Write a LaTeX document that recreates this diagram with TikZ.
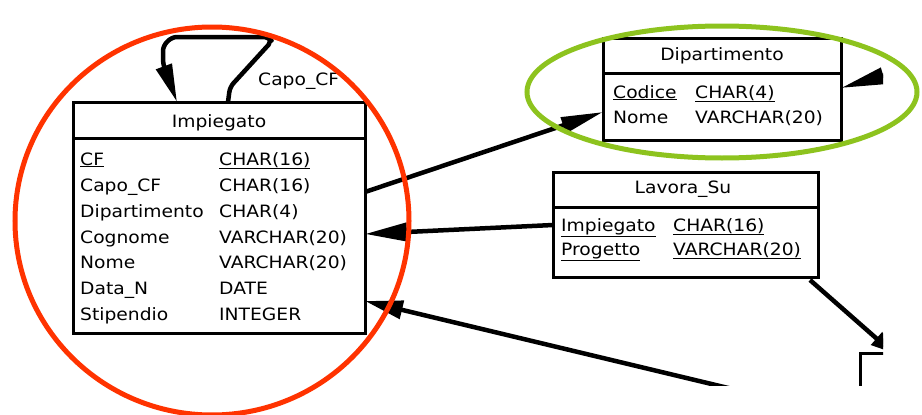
\documentclass[tikz,border=0pt]{standalone}
\usepackage{fontspec}
\newfontfamily\tblfont[FakeStretch=1.1]{DejaVu Sans}
\usetikzlibrary{arrows.meta,calc}
\definecolor{ringred}{HTML}{FF3300}
\definecolor{ringgreen}{HTML}{8DC31E}
\begin{document}
\begin{tikzpicture}[x=1pt,y=-1pt,
  tbox/.style={draw, line width=3pt, inner sep=0pt, outer sep=0pt, anchor=north west},
  tline/.style={line width=3pt},
  cell/.style={anchor=base west, inner sep=0pt, font=\tblfont\fontsize{17}{19}\selectfont},
  tabtitle/.style={anchor=base, inner sep=0pt, font=\tblfont\fontsize{17}{19}\selectfont},
  link/.style={line width=4.5pt, line join=round},
  ring/.style={line width=5pt}]
\useasboundingbox (0,0) rectangle (922,415);

\begin{scope}
\clip (0,0) rectangle (883,385);

% --- table Impiegato ---
\node[tbox, minimum width=292pt, minimum height=231pt] (imp) at (73,102) {};
\draw[tline] ($(imp.north west)+(0,36)$) -- ($(imp.north east)+(0,36)$);
\node[tabtitle] (imp-t) at (219,127) {Impiegato};
\node[cell] (imp-a1) at (80,165) {\underline{CF}};
\node[cell] (imp-b1) at (219,165) {\underline{CHAR(16)}};
\node[cell] (imp-a2) at (80,191) {Capo\_CF};
\node[cell] (imp-b2) at (219,191) {CHAR(16)};
\node[cell] (imp-a3) at (80,217) {Dipartimento};
\node[cell] (imp-b3) at (219,217) {CHAR(4)};
\node[cell] (imp-a4) at (80,243) {Cognome};
\node[cell] (imp-b4) at (219,243) {VARCHAR(20)};
\node[cell] (imp-a5) at (80,268) {Nome};
\node[cell] (imp-b5) at (219,268) {VARCHAR(20)};
\node[cell] (imp-a6) at (80,294) {Data\_N};
\node[cell] (imp-b6) at (219,294) {DATE};
\node[cell] (imp-a7) at (80,320) {Stipendio};
\node[cell] (imp-b7) at (219,320) {INTEGER};

% --- table Dipartimento ---
\node[tbox, minimum width=238pt, minimum height=102pt] (dip) at (603,38) {};
\draw[tline] ($(dip.north west)+(0,35)$) -- ($(dip.north east)+(0,35)$);
\node[tabtitle] (dip-t) at (722,60) {Dipartimento};
\node[cell] (dip-a1) at (613,98) {\underline{Codice}};
\node[cell] (dip-b1) at (695,98) {\underline{CHAR(4)}};
\node[cell] (dip-a2) at (613,123) {Nome};
\node[cell] (dip-b2) at (695,123) {VARCHAR(20)};

% --- table Lavora_Su ---
\node[tbox, minimum width=265pt, minimum height=105pt] (lav) at (553,172) {};
\draw[tline] ($(lav.north west)+(0,35)$) -- ($(lav.north east)+(0,35)$);
\node[tabtitle] (lav-t) at (683,193) {Lavora\_Su};
\node[cell] (lav-a1) at (561,231) {\underline{Impiegato}};
\node[cell] (lav-b1) at (673,231) {\underline{CHAR(16)}};
\node[cell] (lav-a2) at (561,255) {\underline{Progetto}};
\node[cell] (lav-b2) at (673,255) {\underline{VARCHAR(20)}};

% --- next table, mostly off the sheet ---
\node[tbox, minimum width=120pt, minimum height=80pt] (prog) at (860,353) {};

% --- references ---
\draw[link, rounded corners=5pt, -{Triangle[length=38pt,width=16pt]}]
  ($(imp.north west)+(155,0)$) -- ++(2,-15) -- (272,41) -- (268,37) -- (172,37)
  -- (163,46) -- (163,64) -- ($(imp.north west)+(104,0)$);
\node[cell] (selflabel) at (258,85) {Capo\_CF};

\draw[link, -{Triangle[length=42pt,width=16pt]}]
  ($(imp.north east)+(0,90)$) -- ($(dip.north west)+(0,74)$);
\draw[link, -{Triangle[length=42pt,width=18pt]}]
  ($(lav.north west)+(0,53)$) -- ($(imp.north east)+(0,132)$);
\coordinate (tailS) at (770,398);
\draw[link, -{Triangle[length=38pt,width=18pt]}]
  (tailS) -- ($(imp.north east)+(0,199)$);
\draw[link, -{Triangle[length=22pt,width=16pt]}]
  ($(lav.south east)+(-8,3)$) -- ($(prog.north west)+(33,0)$);
\coordinate (tailE) at (910,68);
\draw[link, -{Triangle[length=44pt,width=16pt]}]
  (tailE) -- ($(dip.north east)+(0,50)$);
\end{scope}

% --- highlight rings ---
\draw[ring, ringred] (212,221) ellipse [x radius=197, y radius=194];
\draw[ring, ringgreen] (722,92) ellipse [x radius=195, y radius=66];
\end{tikzpicture}
\end{document}
